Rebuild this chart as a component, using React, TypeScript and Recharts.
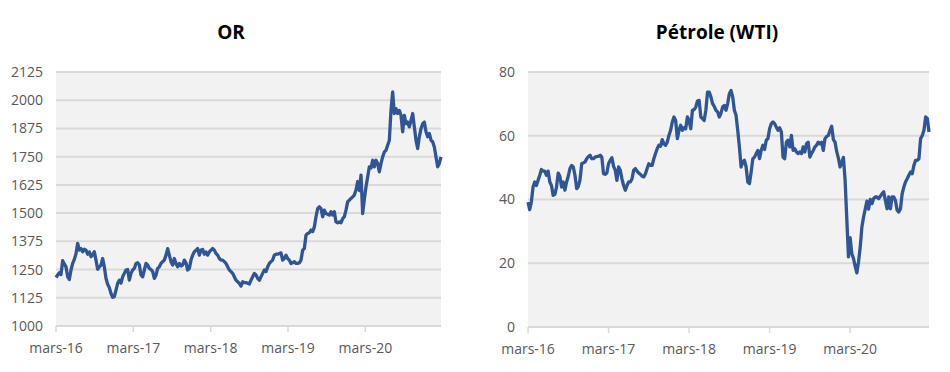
import { LineChart, Line, XAxis, YAxis, CartesianGrid } from "recharts";

const yearLabels = ["mars-16", "mars-17", "mars-18", "mars-19", "mars-20"];
const yearTicks = [0, 1, 2, 3, 4];
const goldTicks = [1000, 1125, 1250, 1375, 1500, 1625, 1750, 1875, 2000, 2125];
const oilTicks = [0, 20, 40, 60, 80];

// gold, USD/oz, roughly weekly from march 2016
const goldValues = [
  1215, 1226, 1236, 1228, 1289, 1275, 1262, 1218, 1206, 1248,
  1277, 1295, 1320, 1366, 1336, 1343, 1329, 1340, 1336, 1318,
  1328, 1307, 1315, 1329, 1292, 1251, 1262, 1270, 1299, 1262,
  1210, 1185, 1170, 1144, 1127, 1130, 1159, 1189, 1203, 1190,
  1218, 1233, 1248, 1250, 1203, 1233, 1248, 1255, 1277, 1280,
  1270, 1226, 1218, 1248, 1277, 1270, 1255, 1250, 1241, 1211,
  1225, 1255, 1262, 1277, 1285, 1292, 1314, 1343, 1314, 1285,
  1270, 1299, 1277, 1262, 1277, 1266, 1270, 1292, 1280, 1248,
  1255, 1292, 1314, 1329, 1336, 1343, 1314, 1336, 1339, 1318,
  1328, 1314, 1328, 1336, 1343, 1336, 1321, 1314, 1299, 1292,
  1292, 1285, 1277, 1262, 1248, 1241, 1233, 1218, 1203, 1196,
  1189, 1177, 1196, 1192, 1192, 1189, 1186, 1203, 1218, 1233,
  1226, 1211, 1203, 1218, 1233, 1248, 1241, 1262, 1277, 1285,
  1292, 1314, 1318, 1318, 1321, 1324, 1292, 1299, 1314, 1299,
  1292, 1277, 1280, 1285, 1277, 1277, 1280, 1292, 1336, 1343,
  1402, 1410, 1413, 1425, 1418, 1439, 1484, 1520, 1528, 1520,
  1484, 1513, 1498, 1495, 1491, 1506, 1491, 1506, 1461, 1457,
  1461, 1457, 1476, 1484, 1513, 1550, 1557, 1565, 1572, 1580,
  1602, 1640, 1600, 1668, 1498, 1560, 1617, 1660, 1705, 1700,
  1734, 1705, 1734, 1720, 1683, 1720, 1749, 1771, 1778, 1801,
  1823, 1955, 2037, 1941, 1963, 1941, 1955, 1933, 1860, 1933,
  1896, 1903, 1882, 1911, 1941, 1882, 1823, 1786, 1838, 1874,
  1896, 1903, 1860, 1838, 1853, 1823, 1816, 1793, 1749, 1705,
  1720, 1749,
];

// WTI crude, USD/bbl, same period
const oilValues = [
  39.2, 36.8, 39.2, 43.9, 45.5, 44.4, 46, 47.6, 49.4, 48.9,
  48.9, 47.6, 48.9, 45.5, 44.4, 41.3, 41.6, 43.9, 48.3, 47.3,
  43.9, 45.5, 42.9, 45.5, 47.3, 49.7, 50.7, 50.2, 47.6, 43.4,
  44.1, 46.2, 51.2, 51.5, 51.8, 52.8, 53.5, 53.9, 52.8, 52.8,
  53.3, 53.5, 53.5, 53.9, 53.3, 48.1, 47.9, 48.3, 51.2, 52.3,
  53.1, 50.4, 49.2, 46, 50.2, 49.2, 46.5, 44.4, 42.9, 44.4,
  45.5, 45.5, 46.5, 49.2, 49.7, 48.9, 48.3, 47.9, 47.3, 47.1,
  48.1, 49.7, 51.2, 50.7, 50.7, 52.8, 54.4, 55.9, 57, 56.7,
  58.8, 57.5, 57, 58, 60.1, 61.7, 64.3, 65.9, 64.8, 59.1,
  61.7, 63.3, 61.7, 62.5, 62.2, 65.9, 64.8, 62.2, 68, 68.2,
  69, 70.9, 71.1, 65.9, 65.4, 64.8, 68, 73.7, 73.7, 72.2,
  70.1, 69.2, 68, 67.5, 65.9, 67, 69, 69.5, 68, 70.1,
  73.2, 74.2, 72.2, 68, 66.4, 61.7, 56.5, 50.2, 51.8, 52.3,
  50.2, 45.5, 45, 48.6, 52.8, 53.3, 54.4, 55.4, 52.8, 55.4,
  57, 55.7, 58.6, 59.1, 62.2, 63.8, 64.3, 63.8, 62.7, 61.7,
  62.5, 61.2, 53.3, 52.8, 58, 58.6, 56.5, 60.1, 55.4, 55.9,
  54.9, 54.4, 54.9, 54.4, 56.5, 54.9, 57.5, 58, 53.3, 54.4,
  55.4, 56.5, 57, 58, 57.5, 58, 55.4, 59.1, 59.8, 60.1,
  61.7, 63, 58.8, 58, 55, 53, 50.2, 51.5, 53.2, 46,
  34, 22, 28, 23, 21.5, 19, 17, 20.5, 25, 31.4,
  34.5, 37, 39.5, 37, 40, 38.7, 40.3, 40.8, 40.8, 40.3,
  41, 41.8, 42.4, 39.7, 37.1, 40.8, 37.1, 40.8, 40.8, 39.7,
  36.6, 36.1, 37.1, 41.8, 43.9, 45.5, 46.5, 47.6, 48.6, 48.1,
  50.7, 52.3, 52.3, 52.8, 59.1, 60.1, 61.7, 65.9, 65.4, 61.2,
];

const goldPointsPerYear = 46.4;
const oilPointsPerYear = 48;

const toSeries = (values: number[], perYear: number) =>
  values.map((v, i) => ({ t: i / perYear, v }));

const goldData = toSeries(goldValues, goldPointsPerYear);
const oilData = toSeries(oilValues, oilPointsPerYear);

const FONT = "'Open Sans', sans-serif";
const TEXT = "#595959";
const GRID = "#d9d9d9";
const LINE = "#2f5597";

type ChartProps = {
  data: { t: number; v: number }[];
  ticks: number[];
  width: number;
  margin: { top: number; right: number; bottom: number; left: number };
};

function PriceChart({ data, ticks, width, margin }: ChartProps) {
  return (
    <LineChart width={width} height={372} data={data} margin={margin}>
      <CartesianGrid
        vertical={false}
        stroke={GRID}
        strokeWidth={2}
        fill="#f2f2f2"
      />
      <XAxis
        dataKey="t"
        type="number"
        domain={[0, "dataMax"]}
        ticks={yearTicks}
        interval={0}
        tickFormatter={(t) => yearLabels[t] ?? ""}
        height={30}
        tickSize={6}
        tickMargin={11}
        axisLine={{ stroke: GRID, strokeWidth: 2 }}
        tickLine={{ stroke: GRID, strokeWidth: 1.5 }}
        tick={{ fill: TEXT, fontSize: 14, fontFamily: FONT }}
      />
      <YAxis
        type="number"
        domain={[ticks[0], ticks[ticks.length - 1]]}
        ticks={ticks}
        interval={0}
        width={50}
        tickSize={0}
        tickMargin={13}
        axisLine={false}
        tickLine={false}
        tick={{ fill: TEXT, fontSize: 14, fontFamily: FONT }}
      />
      <Line
        type="linear"
        dataKey="v"
        stroke={LINE}
        strokeWidth={3.3}
        strokeLinejoin="round"
        dot={false}
        isAnimationActive={false}
      />
    </LineChart>
  );
}

export default function App() {
  return (
    <div
      style={{
        position: "fixed",
        left: 0,
        top: 0,
        width: 950,
        height: 372,
        background: "#fff",
      }}
    >
      <div style={{ position: "absolute", left: 0, top: 0 }}>
        <PriceChart
          data={goldData}
          ticks={goldTicks}
          width={460}
          margin={{ top: 72, right: 19, bottom: 16, left: 6 }}
        />
      </div>
      <div style={{ position: "absolute", left: 470, top: 0 }}>
        <PriceChart
          data={oilData}
          ticks={oilTicks}
          width={480}
          margin={{ top: 72, right: 21, bottom: 15, left: 8 }}
        />
      </div>
      <svg
        width={950}
        height={372}
        style={{ position: "absolute", left: 0, top: 0, pointerEvents: "none" }}
      >
        <g fontFamily={FONT} fontWeight="bold" fontSize={19} fill="#000" textAnchor="middle">
          <text x={231} y={39}>OR</text>
          <text x={717} y={39}>Pétrole (WTI)</text>
        </g>
      </svg>
    </div>
  );
}
